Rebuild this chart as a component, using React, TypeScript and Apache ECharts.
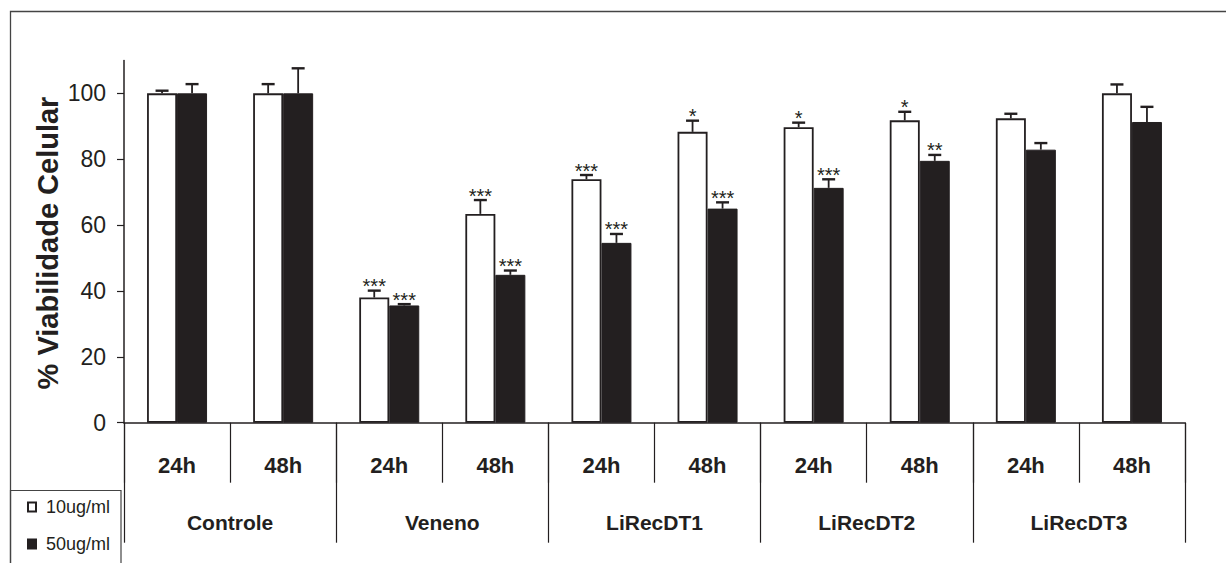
import React, { useEffect, useRef } from "react";
import * as echarts from "echarts";

const categories = ["24h", "48h", "24h", "48h", "24h", "48h", "24h", "48h", "24h", "48h"];
const groups = ["Controle", "Veneno", "LiRecDT1", "LiRecDT2", "LiRecDT3"];
const seriesNames = ["10ug/ml", "50ug/ml"];
const v10 = [100, 100, 38, 63.4, 73.9, 88.3, 89.7, 91.8, 92.4, 100];
const e10 = [0.8, 2.8, 2.1, 4.2, 1.3, 3.4, 1.4, 2.6, 1.4, 2.7];
const v50 = [100, 100, 35.6, 44.9, 54.6, 65.0, 71.3, 79.5, 82.9, 91.3];
const e50 = [2.8, 7.6, 0.4, 1.3, 2.7, 1.9, 2.6, 1.8, 2.0, 4.6];
const sig10 = ["", "", "***", "***", "***", "*", "*", "*", "", ""];
const sig50 = ["", "", "***", "***", "***", "***", "***", "**", "", ""];
const yTicks = [0, 20, 40, 60, 80, 100];
const yTitle = "% Viabilidade Celular";

const INK = "#231f20";
const FONT_N = '"Liberation Sans Narrow", "Arial Narrow", "Liberation Sans", Arial, sans-serif';
const FONT = '"Liberation Sans", Arial, sans-serif';
const BAR_W = 30;

function errRender(values: number[], errs: number[], sigs: string[], offset: number) {
  return (params: any, api: any) => {
    const i = params.dataIndex;
    const base = api.coord([i, values[i]]);
    const top = api.coord([i, values[i] + errs[i]]);
    const x = base[0] + offset;
    const children: any[] = [
      {
        type: "line",
        shape: { x1: x, y1: base[1], x2: x, y2: top[1] },
        style: { stroke: INK, lineWidth: 1.8 },
      },
      {
        type: "line",
        shape: { x1: x - 6.5, y1: top[1], x2: x + 6.5, y2: top[1] },
        style: { stroke: INK, lineWidth: 2.4 },
      },
    ];
    if (sigs[i]) {
      children.push({
        type: "text",
        x: x,
        y: top[1] - 4.5,
        style: {
          text: sigs[i],
          font: `20px ${FONT}`,
          fill: INK,
          align: "center",
          verticalAlign: "middle",
        },
      });
    }
    return { type: "group", children };
  };
}

export default function App() {
  const ref = useRef<HTMLDivElement>(null);
  useEffect(() => {
    if (!ref.current) return;
    const chart = echarts.init(ref.current, null, { renderer: "svg" });
    const option: any = {
      animation: false,
      backgroundColor: "#ffffff",
      grid: { left: 124, right: 41, top: 60.4, bottom: 140.3 },
      legend: {
        data: seriesNames,
        orient: "vertical",
        left: 22,
        top: 493,
        icon: "rect",
        itemWidth: 8,
        itemHeight: 9,
        itemGap: 19,
        selectedMode: false,
        textStyle: { fontFamily: FONT_N, fontSize: 18, color: INK, padding: [0, 0, 0, 5] },
      },
      xAxis: [
        {
          type: "category",
          data: categories,
          position: "bottom",
          axisLine: { show: true, lineStyle: { color: INK, width: 1.5 } },
          axisTick: { show: true, interval: 0, length: 60, lineStyle: { color: INK, width: 1.2 } },
          axisLabel: {
            interval: 0,
            margin: 32,
            fontFamily: FONT_N,
            fontWeight: "bold",
            fontSize: 22,
            color: INK,
          },
        },
        {
          type: "category",
          data: groups,
          position: "bottom",
          axisLine: { show: false },
          axisTick: { show: true, interval: 0, length: 120, lineStyle: { color: INK, width: 1.2 } },
          axisLabel: {
            interval: 0,
            margin: 89,
            fontFamily: FONT_N,
            fontWeight: "bold",
            fontSize: 21,
            color: INK,
          },
        },
      ],
      yAxis: {
        type: "value",
        min: 0,
        max: 110,
        splitLine: { show: false },
        axisLine: { show: true, lineStyle: { color: INK, width: 1.5 } },
        axisTick: { show: true, length: 7, customValues: yTicks, lineStyle: { color: INK, width: 1.2 } },
        axisLabel: {
          customValues: yTicks,
          margin: 18,
          fontFamily: FONT_N,
          fontSize: 23,
          color: INK,
        },
      },
      graphic: [
        {
          type: "rect",
          silent: true,
          z: -10,
          shape: { x: 10.5, y: 11.5, width: 1400, height: 800 },
          style: { fill: "none", stroke: "#444", lineWidth: 1.3 },
        },
        {
          type: "rect",
          silent: true,
          shape: { x: 10.5, y: 490.5, width: 110.5, height: 200 },
          style: { fill: "none", stroke: "#444", lineWidth: 1.2 },
        },
        {
          type: "text",
          silent: true,
          x: 48,
          y: 243,
          rotation: Math.PI / 2,
          style: {
            text: yTitle,
            font: `bold 29px ${FONT}`,
            fill: INK,
            align: "center",
            verticalAlign: "middle",
          },
        },
      ],
      series: [
        {
          name: seriesNames[0],
          type: "bar",
          data: v10,
          barWidth: BAR_W,
          barGap: "0%",
          itemStyle: { color: "#ffffff", borderColor: INK, borderWidth: 1.8 },
        },
        {
          name: seriesNames[1],
          type: "bar",
          data: v50,
          barWidth: BAR_W,
          barGap: "0%",
          itemStyle: { color: INK, borderColor: INK, borderWidth: 1 },
        },
        {
          type: "custom",
          data: v10.map((v, i) => [i, v + e10[i]]),
          encode: { x: 0, y: 1 },
          renderItem: errRender(v10, e10, sig10, -BAR_W / 2),
          z: 3,
        },
        {
          type: "custom",
          data: v50.map((v, i) => [i, v + e50[i]]),
          encode: { x: 0, y: 1 },
          renderItem: errRender(v50, e50, sig50, BAR_W / 2),
          z: 3,
        },
      ],
    };
    chart.setOption(option);
    return () => chart.dispose();
  }, []);
  return (
    <div
      ref={ref}
      style={{ position: "fixed", left: 0, top: 0, width: 1226, height: 563, background: "#fff" }}
    />
  );
}
